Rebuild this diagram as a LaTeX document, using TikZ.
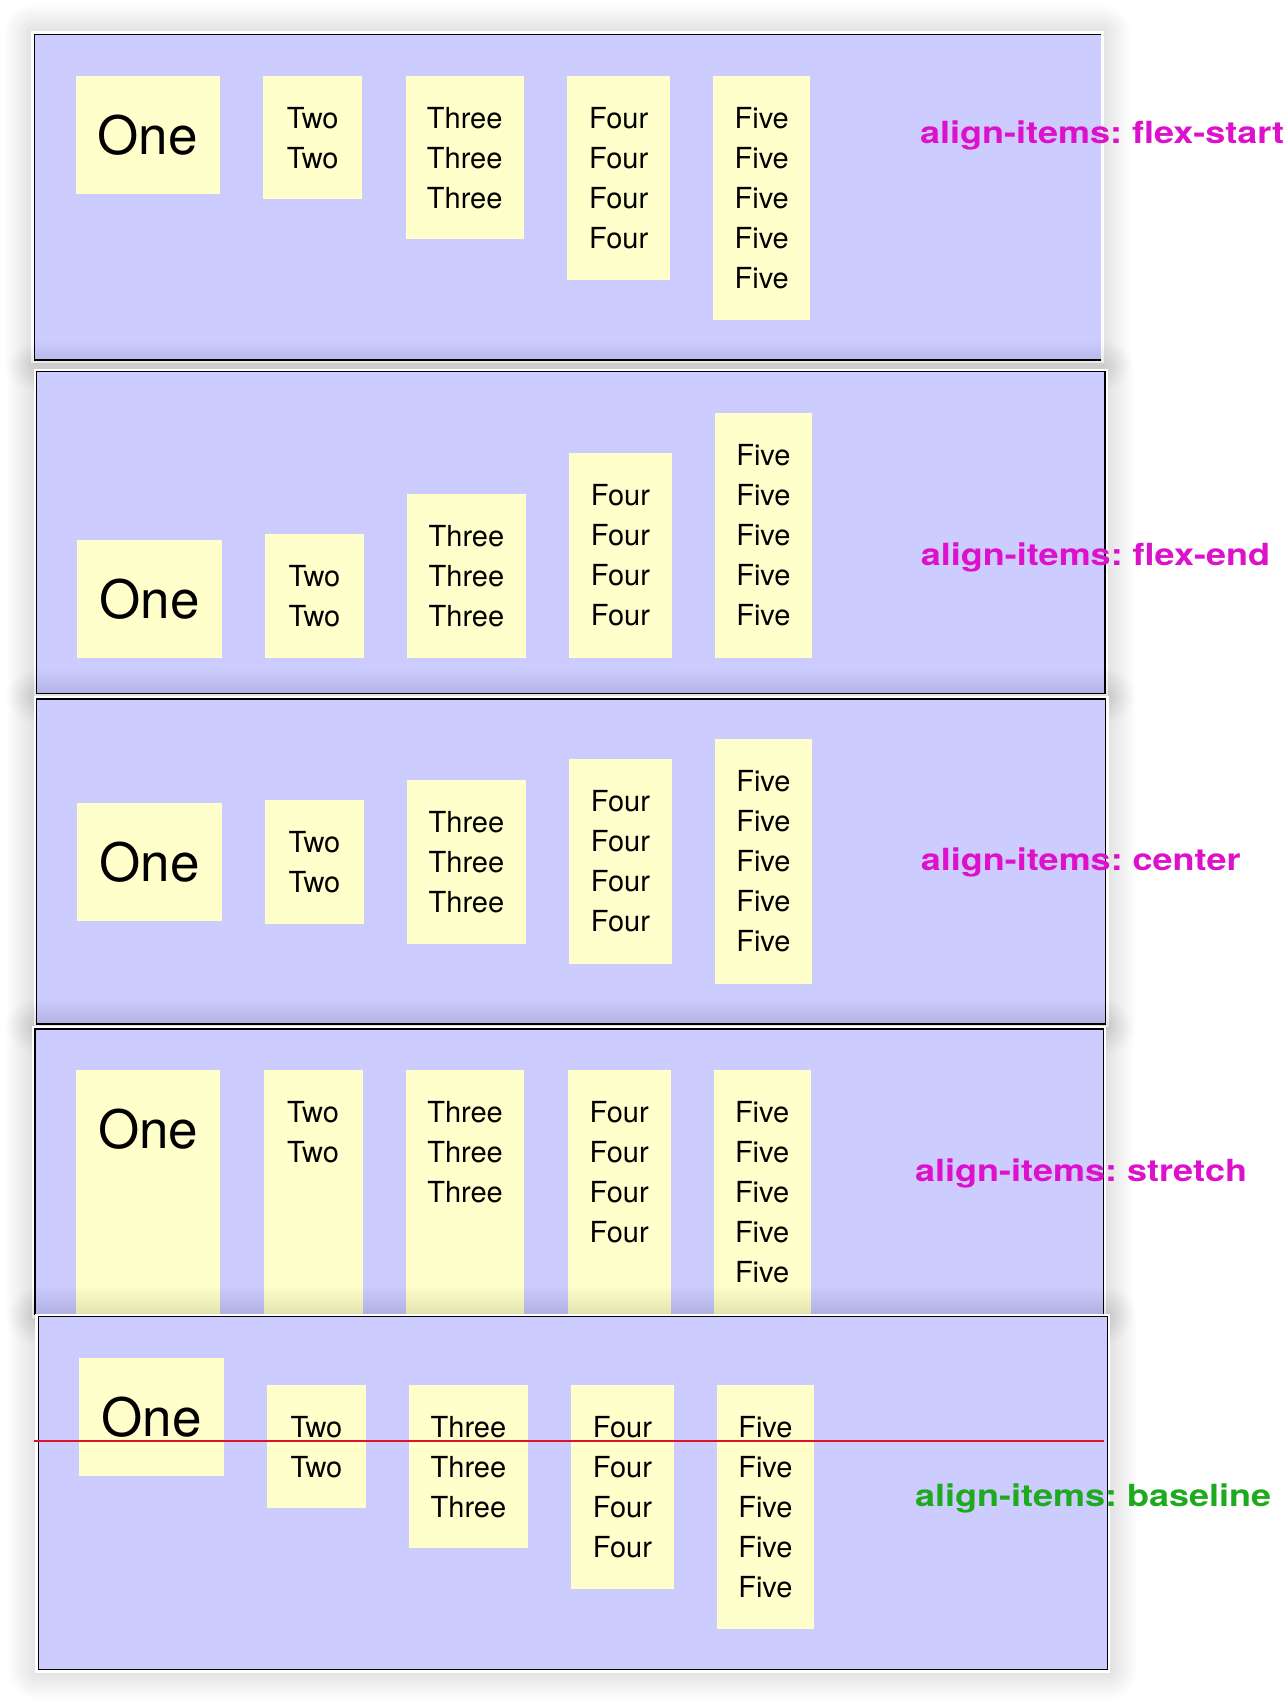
\documentclass[tikz,border=0pt]{standalone}
\usepackage{fontspec}
\setmainfont{TeX Gyre Heros}
\usepackage{graphicx}
\usepackage{tikz}
\usetikzlibrary{calc}
\frenchspacing
\definecolor{panelblue}{RGB}{204,204,255}
\definecolor{itemyellow}{RGB}{255,255,204}
\definecolor{labelpink}{RGB}{221,17,204}
\definecolor{labelgreen}{RGB}{30,170,30}
\definecolor{baselinered}{RGB}{220,20,40}
\tikzset{
	panel/.style={fill=panelblue},
	panelline/.style={draw=black, line width=1.5pt},
	item/.style={fill=itemyellow, draw=none, anchor=north west, inner sep=0pt},
	itemtext/.style={anchor=base, inner sep=0pt, font=\fontsize{29}{35}\selectfont},
	onetext/.style={anchor=base, inner sep=0pt, font=\fontsize{53}{64}\selectfont},
	alignlabel/.style={anchor=base west, inner sep=0pt, font=\fontsize{30.5}{36}\selectfont\bfseries},
}
\def\panelshadow(#1,#2)(#3,#4){\foreach \sh in {2,4,...,30} \fill[black, opacity=0.009, rounded corners=\sh pt] (#1-\sh,#2-\sh) rectangle (#3+\sh,#4+\sh); \fill[white] (#1-3,#2-3) rectangle (#3+3,#4+3);}
\def\flexone[#1](#2,#3)(#4){\node[item, minimum width=144.4, minimum height=#4] (#1) at (#2,#3) {}; \node[onetext] (#1-1) at ($(#1.north)+(0,79)$) {One};}
\def\flexitem[#1](#2,#3)(#4:#5)#6#7{\node[item, minimum width=#4, minimum height=#5] (#1) at (#2,#3) {}; \foreach \k in {1,...,#7} \node[itemtext] (#1-\k) at ($(#1.north)+(0,52.7+40*\k-40)$) {#6};}

\begin{document}
\begin{tikzpicture}[x=1pt, y=-1pt]
			%%%%% START %%%%%
			
			\useasboundingbox (0,0) rectangle (1286,1708);
			\fill[white] (0,0) rectangle (1286,1708);
			
			% flex-start
			\panelshadow(34.3,34.3)(1100.7,360)
			\fill[panel] (34.3,34.3) rectangle (1100.7,360);
			\draw[panelline] (1100.7,34.3) -- (34.3,34.3) -- (34.3,360) -- (1100.7,360);
			\flexone[p1one](75.3,75.3)(118)
			\flexitem[p1two](263,75.3)(99:123.7){Two}{2}
			\flexitem[p1three](405.3,75.3)(118.4:163.7){Three}{3}
			\flexitem[p1four](567,75.3)(103:204.7){Four}{4}
			\flexitem[p1five](713,75.3)(97:244.7){Five}{5}
			\node[alignlabel, text=labelpink] (lab-start) at (920,143.3) {\scalebox{1.18}[1]{align-items: flex-start}};
			
			% flex-end
			\panelshadow(36.7,371.7)(1105,693.7)
			\draw[panel, panelline] (36.7,371.7) rectangle (1105,693.7);
			\flexone[p2one](77,539.7)(118)
			\flexitem[p2two](264.7,534)(99:123.7){Two}{2}
			\flexitem[p2three](407,494)(118.4:163.7){Three}{3}
			\flexitem[p2four](568.7,453)(103:204.7){Four}{4}
			\flexitem[p2five](714.7,413)(97:244.7){Five}{5}
			\node[alignlabel, text=labelpink] (lab-end) at (920.7,565) {\scalebox{1.18}[1]{align-items: flex-end}};
			
			% center
			\panelshadow(36.7,699)(1105.5,1024)
			\draw[panel, panelline] (36.7,699) rectangle (1105.5,1024);
			\flexone[p3one](77,802.5)(118)
			\flexitem[p3two](264.7,799.7)(99:123.7){Two}{2}
			\flexitem[p3three](407,779.7)(118.4:163.7){Three}{3}
			\flexitem[p3four](568.7,759.2)(103:204.7){Four}{4}
			\flexitem[p3five](714.7,739.2)(97:244.7){Five}{5}
			\node[alignlabel, text=labelpink] (lab-center) at (920.7,870.7) {\scalebox{1.18}[1]{align-items: center}};
			
			% stretch
			\panelshadow(35,1029)(1103.3,1314.5)
			\draw[panel, panelline] (35,1029) rectangle (1103.3,1314.5);
			\flexone[p4one](75.7,1069.3)(244)
			\flexitem[p4two](263.4,1069.3)(99:244){Two}{2}
			\flexitem[p4three](405.7,1069.3)(118.4:244){Three}{3}
			\flexitem[p4four](567.4,1069.3)(103:244){Four}{4}
			\flexitem[p4five](713.4,1069.3)(97:244){Five}{5}
			\node[alignlabel, text=labelpink] (lab-stretch) at (915,1181.7) {\scalebox{1.18}[1]{align-items: stretch}};
			
			% baseline
			\panelshadow(38.3,1316.7)(1107.3,1669.5)
			\draw[panel, panelline] (38.3,1316.7) rectangle (1107.3,1669.5);
			\flexone[p5one](79,1357.7)(118)
			\flexitem[p5two](266.7,1384.3)(99:123.7){Two}{2}
			\flexitem[p5three](409,1384.3)(118.4:163.7){Three}{3}
			\flexitem[p5four](570.7,1384.3)(103:204.7){Four}{4}
			\flexitem[p5five](716.7,1384.3)(97:244.7){Five}{5}
			\draw[baselinered, line width=1.5pt] (33.6,1441) -- (1104,1441);
			\node[alignlabel, text=labelgreen] (lab-baseline) at (915,1506) {\scalebox{1.18}[1]{align-items: baseline}};
			
			%%%%% END %%%%%
\end{tikzpicture}
\end{document}
